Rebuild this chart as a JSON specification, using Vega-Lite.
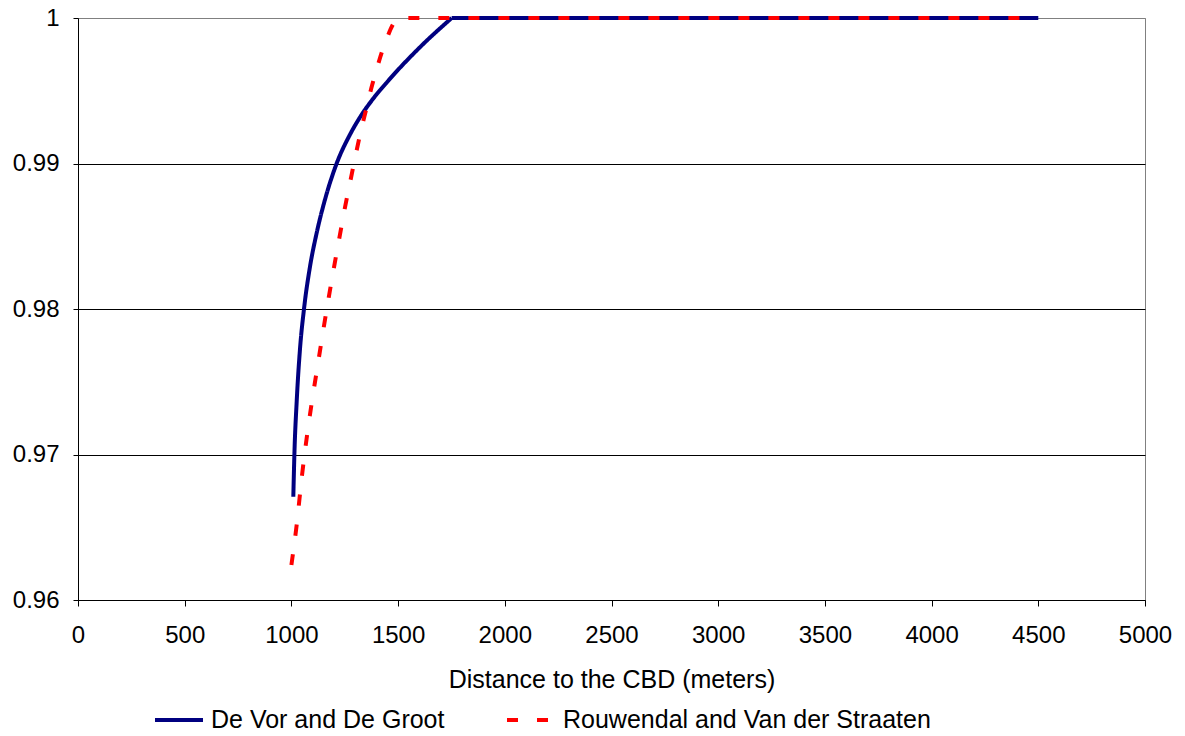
{
  "$schema": "https://vega.github.io/schema/vega-lite/v6.json",
  "width": 1067,
  "height": 582,
  "autosize": "none",
  "padding": {"left": 78, "top": 18, "right": 40, "bottom": 136},
  "background": "white",
  "config": {
    "font": "Liberation Sans",
    "view": {"stroke": "#808080", "strokeWidth": 1},
    "axis": {
      "labelFont": "Liberation Sans",
      "titleFont": "Liberation Sans",
      "labelFontSize": 24,
      "titleFontSize": 25,
      "titleFontWeight": "normal",
      "labelColor": "black",
      "titleColor": "black",
      "domainColor": "black",
      "tickColor": "black",
      "domainWidth": 1,
      "tickWidth": 1
    },
    "legend": {
      "labelFont": "Liberation Sans",
      "labelFontSize": 25,
      "labelColor": "black",
      "labelLimit": 0
    }
  },
  "data": {
    "values": [
      {"series": "De Vor and De Groot", "seg": "a", "d": 1009, "v": 0.9671},
      {"series": "De Vor and De Groot", "seg": "a", "d": 1014, "v": 0.9700},
      {"series": "De Vor and De Groot", "seg": "a", "d": 1025, "v": 0.9737},
      {"series": "De Vor and De Groot", "seg": "a", "d": 1040, "v": 0.9772},
      {"series": "De Vor and De Groot", "seg": "a", "d": 1059, "v": 0.9800},
      {"series": "De Vor and De Groot", "seg": "a", "d": 1087, "v": 0.9829},
      {"series": "De Vor and De Groot", "seg": "a", "d": 1118, "v": 0.9852},
      {"series": "De Vor and De Groot", "seg": "a", "d": 1157, "v": 0.9875},
      {"series": "De Vor and De Groot", "seg": "a", "d": 1212, "v": 0.9900},
      {"series": "De Vor and De Groot", "seg": "a", "d": 1275, "v": 0.9920},
      {"series": "De Vor and De Groot", "seg": "a", "d": 1329, "v": 0.99335},
      {"series": "De Vor and De Groot", "seg": "a", "d": 1376, "v": 0.99432},
      {"series": "De Vor and De Groot", "seg": "a", "d": 1454, "v": 0.99569},
      {"series": "De Vor and De Groot", "seg": "a", "d": 1603, "v": 0.9980},
      {"series": "De Vor and De Groot", "seg": "a", "d": 1751, "v": 1.0},
      {"series": "De Vor and De Groot", "seg": "b", "d": 1751, "v": 1.0},
      {"series": "De Vor and De Groot", "seg": "b", "d": 4500, "v": 1.0},
      {"series": "Rouwendal and Van der Straaten", "seg": "a", "d": 1000, "v": 0.9624},
      {"series": "Rouwendal and Van der Straaten", "seg": "a", "d": 1025, "v": 0.9652},
      {"series": "Rouwendal and Van der Straaten", "seg": "a", "d": 1050, "v": 0.9686},
      {"series": "Rouwendal and Van der Straaten", "seg": "a", "d": 1075, "v": 0.9715},
      {"series": "Rouwendal and Van der Straaten", "seg": "a", "d": 1100, "v": 0.9740},
      {"series": "Rouwendal and Van der Straaten", "seg": "a", "d": 1125, "v": 0.9763},
      {"series": "Rouwendal and Van der Straaten", "seg": "a", "d": 1150, "v": 0.9786},
      {"series": "Rouwendal and Van der Straaten", "seg": "a", "d": 1175, "v": 0.9808},
      {"series": "Rouwendal and Van der Straaten", "seg": "a", "d": 1200, "v": 0.9829},
      {"series": "Rouwendal and Van der Straaten", "seg": "a", "d": 1225, "v": 0.9849},
      {"series": "Rouwendal and Van der Straaten", "seg": "a", "d": 1250, "v": 0.9869},
      {"series": "Rouwendal and Van der Straaten", "seg": "a", "d": 1275, "v": 0.9887},
      {"series": "Rouwendal and Van der Straaten", "seg": "a", "d": 1300, "v": 0.9905},
      {"series": "Rouwendal and Van der Straaten", "seg": "a", "d": 1325, "v": 0.9922},
      {"series": "Rouwendal and Van der Straaten", "seg": "a", "d": 1350, "v": 0.9937},
      {"series": "Rouwendal and Van der Straaten", "seg": "a", "d": 1375, "v": 0.9952},
      {"series": "Rouwendal and Van der Straaten", "seg": "a", "d": 1400, "v": 0.9965},
      {"series": "Rouwendal and Van der Straaten", "seg": "a", "d": 1425, "v": 0.9977},
      {"series": "Rouwendal and Van der Straaten", "seg": "a", "d": 1450, "v": 0.9987},
      {"series": "Rouwendal and Van der Straaten", "seg": "a", "d": 1475, "v": 0.99953},
      {"series": "Rouwendal and Van der Straaten", "seg": "a", "d": 1500, "v": 1.0},
      {"series": "Rouwendal and Van der Straaten", "seg": "a", "d": 4500, "v": 1.0}
    ]
  },
  "mark": {"type": "line", "strokeWidth": 4, "interpolate": "monotone", "clip": false},
  "encoding": {
    "detail": {"field": "seg", "type": "nominal"},
    "x": {
      "field": "d",
      "type": "quantitative",
      "scale": {"domain": [0, 5000], "nice": false},
      "axis": {
        "values": [0, 500, 1000, 1500, 2000, 2500, 3000, 3500, 4000, 4500, 5000],
        "format": "d",
        "title": "Distance to the CBD (meters)",
        "grid": false,
        "tickSize": 6,
        "labelPadding": 17,
        "titlePadding": 20,
        "labelFlush": false,
        "labelOverlap": false
      }
    },
    "y": {
      "field": "v",
      "type": "quantitative",
      "scale": {"domain": [0.96, 1], "nice": false, "zero": false},
      "axis": {
        "values": [0.96, 0.97, 0.98, 0.99, 1],
        "format": ".2~f",
        "title": null,
        "grid": true,
        "gridColor": {"condition": {"test": "datum.value >= 0.999", "value": "#808080"}, "value": "black"},
        "gridWidth": 1,
        "gridOpacity": 1,
        "tickSize": 5,
        "labelPadding": 14,
        "labelFlush": false,
        "labelOverlap": false
      }
    },
    "color": {
      "field": "series",
      "type": "nominal",
      "scale": {"domain": ["De Vor and De Groot", "Rouwendal and Van der Straaten"], "range": ["#000080", "#ff0000"]},
      "legend": {
        "title": null,
        "orient": "none",
        "direction": "horizontal",
        "columns": 2,
        "legendX": 75,
        "legendY": 676,
        "symbolType": "stroke",
        "symbolSize": 2304,
        "symbolStrokeWidth": 4,
        "labelOffset": 6,
        "columnPadding": 54,
        "padding": 0
      }
    },
    "strokeDash": {
      "field": "series",
      "type": "nominal",
      "scale": {"domain": ["De Vor and De Groot", "Rouwendal and Van der Straaten"], "range": [[1, 0], [11, 19]]},
      "legend": {
        "title": null,
        "orient": "none",
        "direction": "horizontal",
        "columns": 2,
        "legendX": 75,
        "legendY": 676,
        "symbolType": "stroke",
        "symbolSize": 2304,
        "symbolStrokeWidth": 4,
        "labelOffset": 6,
        "columnPadding": 54,
        "padding": 0
      }
    }
  }
}
